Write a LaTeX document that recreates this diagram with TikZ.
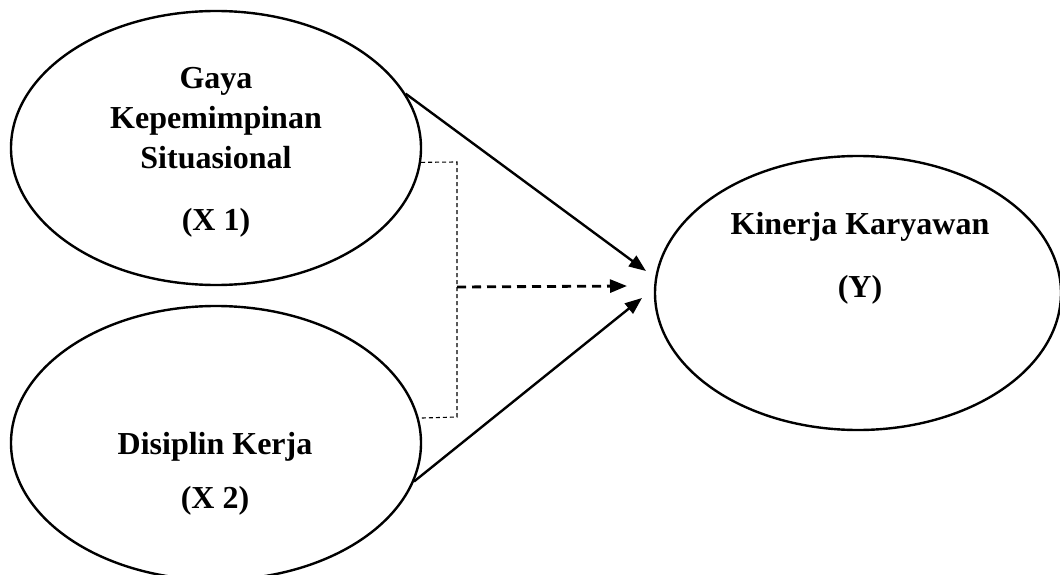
\documentclass[tikz,border=0pt]{standalone}
\usepackage{fontspec}
\setmainfont{Liberation Serif}
\usetikzlibrary{shapes.geometric,arrows.meta}
\begin{document}
\begin{tikzpicture}[x=1pt,y=-1pt,
  construct/.style={draw,ellipse,line width=2.4pt,minimum width=410pt,minimum height=274pt,inner sep=0pt},
  label/.style={anchor=base,font=\fontsize{32}{38}\selectfont\bfseries,inner sep=0pt},
  effect/.style={line width=2.4pt,-{Triangle[length=17pt,width=13pt]}},
  joint/.style={line width=2.8pt,dash pattern=on 9pt off 6pt,-{Triangle[length=17pt,width=13pt]}},
  bracket/.style={line width=1.1pt,dash pattern=on 4pt off 3pt}]
\useasboundingbox (0,0) rectangle (1060,575);
% constructs
\node[construct] (x1) at (216,148) {};
\node[construct] (x2) at (216,443) {};
\node[construct,minimum width=406pt] (y) at (858,293) {};
% construct labels
\node[label] (x1a) at (216,89) {Gaya};
\node[label] (x1b) at (216,129) {Kepemimpinan};
\node[label] (x1c) at (216,168) {Situasional};
\node[label] (x1d) at (216,230) {(X 1)};
\node[label] (x2a) at (215,454) {Disiplin Kerja};
\node[label] (x2b) at (215,508) {(X 2)};
\node[label] (ya) at (860,234) {Kinerja Karyawan};
\node[label] (yb) at (860,297) {(Y)};
% bracket joining X1 and X2
\coordinate (bk1) at (457,162);
\coordinate (bk2) at (457,417);
\coordinate (bm) at (457,287);
\draw[bracket] (x1.-4) -- (bk1) -- (bk2) -- (x2.7);
% arrow tips in front of Y
\coordinate (t1) at (646,271);
\coordinate (t2) at (642,298);
\coordinate (tm) at (627,286);
\draw[effect] (x1.16) -- (t1);
\draw[effect] (x2.-11) -- (t2);
\draw[joint] (bm) -- (tm);
\end{tikzpicture}
\end{document}
